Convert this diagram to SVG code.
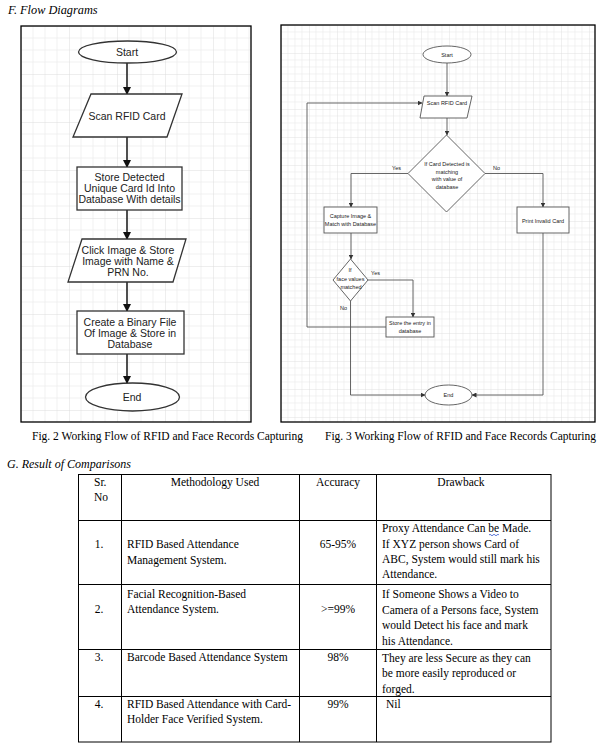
<svg xmlns="http://www.w3.org/2000/svg" width="613" height="751" viewBox="0 0 613 751">
<style>
.ser{font-family:"Liberation Serif","Times New Roman",serif;fill:#000}
.t12{font-size:11.5px}
.it{font-style:italic;font-size:12.3px}
.fl{font-family:"Liberation Sans",Arial,sans-serif;font-size:10.5px;fill:#222}
.fr{font-family:"Liberation Sans",Arial,sans-serif;font-size:5.5px;fill:#222}
.shL{fill:#fff;stroke:#333;stroke-width:1.3}
.shR{fill:#fff;stroke:#555;stroke-width:0.9}
.cL{fill:none;stroke:#222;stroke-width:1.6}
.cR{fill:none;stroke:#555;stroke-width:0.9}
.tb{fill:none;stroke:#000;stroke-width:1}
.mid{text-anchor:middle}
</style>
<defs>
<pattern id="gL" width="48" height="48" patternUnits="userSpaceOnUse" x="21" y="26">
<path d="M12 0V48M24 0V48M36 0V48M0 12H48M0 24H48M0 36H48" stroke="#ededed" stroke-width="0.8" fill="none"/>
<path d="M0 0V48M0 0H48" stroke="#d9d9d9" stroke-width="0.9" fill="none"/>
</pattern>
<pattern id="gR" width="28" height="28" patternUnits="userSpaceOnUse" x="281" y="25">
<path d="M7 0V28M14 0V28M21 0V28M0 7H28M0 14H28M0 21H28" stroke="#ededed" stroke-width="0.7" fill="none"/>
<path d="M0 0V28M0 0H28" stroke="#dadada" stroke-width="0.8" fill="none"/>
</pattern>
<marker id="aL" markerWidth="8" markerHeight="8" refX="7" refY="4" orient="auto" markerUnits="userSpaceOnUse"><path d="M0 0L8 4L0 8Z" fill="#111"/></marker>
<marker id="aR" markerWidth="5" markerHeight="5" refX="4.5" refY="2.5" orient="auto" markerUnits="userSpaceOnUse"><path d="M0 0L5 2.5L0 5Z" fill="#333"/></marker>
</defs>
<rect width="613" height="751" fill="#fff"/>

<text class="ser it" x="8" y="14">F.  Flow Diagrams</text>

<!-- Left panel -->
<g id="panelLeft">
<rect x="21" y="26" width="230" height="396" fill="url(#gL)"/>
<rect x="21" y="26" width="230" height="396" fill="none" stroke="#000" stroke-width="1.3"/>
</g>
<g id="connectorsLeft">
<line class="cL" x1="127" y1="63" x2="127" y2="94" marker-end="url(#aL)"/>
<line class="cL" x1="127" y1="137" x2="127" y2="167" marker-end="url(#aL)"/>
<line class="cL" x1="127" y1="210" x2="127" y2="239" marker-end="url(#aL)"/>
<line class="cL" x1="127" y1="282" x2="127" y2="311" marker-end="url(#aL)"/>
<line class="cL" x1="127" y1="354" x2="127" y2="383" marker-end="url(#aL)"/>
</g>
<g id="L_start"><ellipse class="shL" cx="127.5" cy="52" rx="49" ry="11"/><text class="fl mid" x="127" y="56">Start</text></g>
<g id="L_scan"><polygon class="shL" points="91,94 182,94 167,137 73,137"/><text class="fl mid" x="127" y="120">Scan RFID Card</text></g>
<g id="L_store"><rect class="shL" x="77" y="167" width="105" height="43"/>
<text class="fl mid" x="129.5" y="181">Store Detected</text><text class="fl mid" x="129.5" y="192">Unique Card Id Into</text><text class="fl mid" x="129.5" y="203">Database With details</text></g>
<g id="L_click"><polygon class="shL" points="82,239 186,239 173,282 68,282"/>
<text class="fl mid" x="128" y="254">Click Image &amp; Store</text><text class="fl mid" x="128" y="265">Image with Name &amp;</text><text class="fl mid" x="128" y="276">PRN No.</text></g>
<g id="L_binary"><rect class="shL" x="77" y="311" width="107" height="43"/>
<text class="fl mid" x="130" y="326">Create a Binary File</text><text class="fl mid" x="130" y="337">Of Image &amp; Store in</text><text class="fl mid" x="130" y="348">Database</text></g>
<g id="L_end"><ellipse class="shL" cx="132.5" cy="397" rx="47" ry="14"/><text class="fl mid" x="132" y="401">End</text></g>

<!-- Right panel -->
<g id="panelRight">
<rect x="281" y="25" width="314" height="397" fill="url(#gR)"/>
<rect x="281" y="25" width="314" height="397" fill="none" stroke="#000" stroke-width="1.3"/>
</g>
<g id="connectorsRight">
<line class="cR" x1="447" y1="63" x2="447" y2="96" marker-end="url(#aR)"/>
<line class="cR" x1="447" y1="118" x2="447" y2="135" marker-end="url(#aR)"/>
<polyline class="cR" points="408,173.5 351,173.5 351,207" marker-end="url(#aR)"/>
<polyline class="cR" points="485,173.5 543,173.5 543,207" marker-end="url(#aR)"/>
<line class="cR" x1="351" y1="233" x2="351" y2="259" marker-end="url(#aR)"/>
<polyline class="cR" points="368,280 413,280 413,317" marker-end="url(#aR)"/>
<polyline class="cR" points="350.5,301 350.5,395 425,395" marker-end="url(#aR)"/>
<polyline class="cR" points="386,327 307,327 307,103 422,103" marker-end="url(#aR)"/>
<polyline class="cR" points="543,233 543,395 472,395" marker-end="url(#aR)"/>
<text class="fr" x="392" y="170">Yes</text>
<text class="fr" x="493" y="170">No</text>
<text class="fr" x="371" y="275">Yes</text>
<text class="fr" x="340" y="310">No</text>
</g>
<g id="R_start"><ellipse class="shR" cx="447" cy="54.5" rx="24" ry="8.5"/><text class="fr mid" x="447" y="56.5">Start</text></g>
<g id="R_scan"><polygon class="shR" points="424,96 472,96 467,118 420,118"/><text class="fr mid" x="447" y="105">Scan RFID Card</text></g>
<g id="R_decision"><polygon class="shR" points="446.5,135 485,173.5 446.5,212 408,173.5"/>
<text class="fr mid" x="447" y="166">If Card Detected is</text><text class="fr mid" x="447" y="174">matching</text><text class="fr mid" x="447" y="181">with value of</text><text class="fr mid" x="447" y="189">database</text></g>
<g id="R_capture"><rect class="shR" x="324" y="207" width="53" height="26"/>
<text class="fr mid" x="350.5" y="218">Capture Image &amp;</text><text class="fr mid" x="350.5" y="226">Match with Database</text></g>
<g id="R_print"><rect class="shR" x="517" y="207" width="52" height="26"/><text class="fr mid" x="543" y="223">Print Invalid Card</text></g>
<g id="R_face"><polygon class="shR" points="350.5,259 368,280 350.5,301 333,280"/>
<text class="fr mid" x="350" y="272">If</text><text class="fr mid" x="350.5" y="281">face values</text><text class="fr mid" x="351" y="289">matched</text></g>
<g id="R_storeEntry"><rect class="shR" x="386" y="317" width="48" height="20"/>
<text class="fr mid" x="410" y="325">Store the entry in</text><text class="fr mid" x="410" y="333">database</text></g>
<g id="R_end"><ellipse class="shR" cx="448.5" cy="395" rx="23.5" ry="10"/><text class="fr mid" x="448.5" y="397">End</text></g>

<text class="ser t12" x="32" y="440">Fig. 2 Working Flow of RFID and Face Records Capturing</text>
<text class="ser t12" x="325" y="440">Fig. 3 Working Flow of RFID and Face Records Capturing</text>

<text class="ser it" x="7" y="468" style="font-size:12px">G.  Result of Comparisons</text>

<!-- Table -->
<g id="table">
<rect class="tb" x="78.5" y="474.5" width="472.5" height="267.5"/>
<line class="tb" x1="121.5" y1="474.5" x2="121.5" y2="742"/>
<line class="tb" x1="299.5" y1="474.5" x2="299.5" y2="742"/>
<line class="tb" x1="376.5" y1="474.5" x2="376.5" y2="742"/>
<line class="tb" x1="78.5" y1="520.5" x2="551" y2="520.5"/>
<line class="tb" x1="78.5" y1="584.5" x2="551" y2="584.5"/>
<line class="tb" x1="78.5" y1="649.5" x2="551" y2="649.5"/>
<line class="tb" x1="78.5" y1="696.5" x2="551" y2="696.5"/>
<g class="ser t12">
<text x="94" y="486">Sr.</text><text x="94" y="501">No</text>
<text x="215" y="486" class="mid">Methodology Used</text>
<text x="338" y="486" class="mid">Accuracy</text>
<text x="461" y="486" class="mid">Drawback</text>

<text x="99" y="548" class="mid">1.</text>
<text x="127" y="548">RFID Based Attendance</text><text x="127" y="564">Management System.</text>
<text x="338" y="548" class="mid">65-95%</text>
<text x="382" y="532">Proxy Attendance Can be Made.</text>
<text x="382" y="548">If XYZ person shows Card of</text>
<text x="382" y="563">ABC, System would still mark his</text>
<text x="382" y="578">Attendance.</text>

<text x="99" y="613" class="mid">2.</text>
<text x="127" y="598">Facial Recognition-Based</text><text x="127" y="613">Attendance System.</text>
<text x="338" y="613" class="mid">&gt;=99%</text>
<text x="382" y="598">If Someone Shows a Video to</text>
<text x="382" y="614">Camera of a Persons face, System</text>
<text x="382" y="629">would Detect his face and mark</text>
<text x="382" y="645">his Attendance.</text>

<text x="99" y="661" class="mid">3.</text>
<text x="127" y="661">Barcode Based Attendance System</text>
<text x="338" y="661" class="mid">98%</text>
<text x="382" y="662">They are less Secure as they can</text>
<text x="382" y="677">be more easily reproduced or</text>
<text x="382" y="693">forged.</text>

<text x="99" y="708" class="mid">4.</text>
<text x="127" y="708">RFID Based Attendance with Card-</text><text x="127" y="723">Holder Face Verified System.</text>
<text x="338" y="708" class="mid">99%</text>
<text x="386" y="708">Nil</text>
</g>
<path d="M489 535 q1 -1.5 2 0 t2 0 t2 0 t2 0 t2 0" fill="none" stroke="#3355cc" stroke-width="0.8"/>
</g>
</svg>
